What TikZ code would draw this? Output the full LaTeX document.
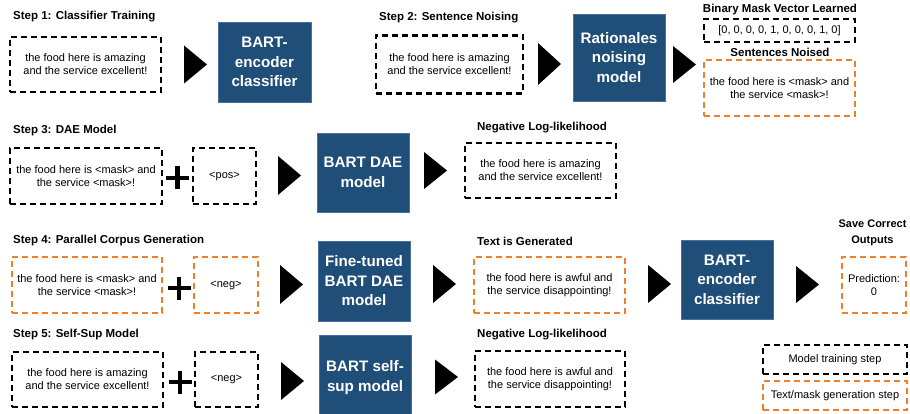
\documentclass[tikz,border=0pt]{standalone}
\usepackage{fontspec}
\setmainfont{Liberation Sans}
\definecolor{bartblue}{RGB}{31,78,121}
\definecolor{bartedge}{RGB}{72,112,160}
\definecolor{maskorange}{RGB}{238,127,45}
\tikzset{
  base/.style={inner sep=0pt, align=center, font=\fontsize{11}{13}\selectfont},
  dbox/.style={base, draw=black, line width=2.6pt, dash pattern=on 6pt off 4pt},
  obox/.style={dbox, draw=maskorange},
  bbox/.style={base, fill=bartblue, draw=bartedge, line width=0.6pt, text=white, font=\bfseries\fontsize{15.2}{19.5}\selectfont},
  ttl/.style={inner sep=0pt, align=center, font=\bfseries\fontsize{11.5}{17}\selectfont},
  plusbar/.style={line width=4.5pt},
}
\newcommand\arrowtri[3]{\fill (#1,#2-#3) -- (#1+23,#2) -- (#1,#2+#3) -- cycle;}
\newcommand\plussign[2]{\draw[plusbar] (#1-11.5,#2) -- (#1+11.5,#2) (#1,#2-11.5) -- (#1,#2+11.5);}
\begin{document}
\begin{tikzpicture}[x=1pt,y=-1pt]
\useasboundingbox (0,0) rectangle (910,414);

% ---------- Step 1 ----------
\node[ttl, anchor=west] (t1) at (13,17) {Step 1: Classifier Training};
\node[dbox, minimum width=151pt, minimum height=55pt] (s1in) at (85.5,64.5) {the food here is amazing\\and the service excellent!};
\arrowtri{184}{64.5}{19}
\node[bbox, minimum width=93pt, minimum height=80pt] (bart1) at (264.5,62) {BART-\\encoder\\classifier};

% ---------- Step 2 ----------
\node[ttl, anchor=west] (t2) at (379,17.5) {Step 2: Sentence Noising};
\node[dbox, minimum width=147pt, minimum height=58pt] (s2in) at (449.5,64.5) {the food here is amazing\\and the service excellent!};
\arrowtri{538}{64}{21}
\node[bbox, minimum width=92pt, minimum height=87pt] (rat) at (619,57.5) {Rationales\\noising\\model};
\arrowtri{673}{64.5}{18.5}
\node[ttl] (tmask) at (780,10) {Binary Mask Vector Learned};
\node[dbox, minimum width=151pt, minimum height=23pt] (mask) at (779.5,30.5) {[0, 0, 0, 0, 1, 0, 0, 0, 1, 0]};
\node[ttl] (tnoised) at (780,52) {Sentences Noised};
\node[obox, minimum width=151pt, minimum height=56pt] (noised) at (779.5,88) {the food here is <mask> and\\the service <mask>!};

% ---------- Step 3 ----------
\node[ttl, anchor=west] (t3) at (13,131) {Step 3: DAE Model};
\node[dbox, minimum width=152pt, minimum height=56pt] (s3in) at (86,176) {the food here is <mask> and\\the service <mask>!};
\plussign{177.5}{178}
\node[dbox, minimum width=63pt, minimum height=56pt] (pos) at (224.5,176) {<pos>};
\arrowtri{278}{175.5}{19.5}
\node[bbox, minimum width=92pt, minimum height=79pt] (dae) at (363,172.5) {BART DAE\\model};
\arrowtri{424}{170.5}{18.5}
\node[ttl] (tnll1) at (542,128) {Negative Log-likelihood};
\node[dbox, minimum width=151pt, minimum height=55pt] (nll1) at (540.5,170.5) {the food here is amazing\\and the service excellent!};

% ---------- Step 4 ----------
\node[ttl, anchor=west] (t4) at (13,241) {Step 4: Parallel Corpus Generation};
\node[obox, minimum width=150pt, minimum height=56pt] (s4in) at (87,285) {the food here is <mask> and\\the service <mask>!};
\plussign{179}{288}
\node[obox, minimum width=64pt, minimum height=56pt] (neg1) at (226,285) {<neg>};
\arrowtri{280}{284.5}{19.5}
\node[bbox, minimum width=92pt, minimum height=80pt] (ft) at (364,281) {Fine-tuned\\BART DAE\\model};
\arrowtri{433}{284}{19}
\node[ttl, anchor=west] (tgen) at (477,241) {Text is Generated};
\node[obox, minimum width=151pt, minimum height=56pt] (gen) at (549.5,285) {the food here is awful and\\the service disappointing!};
\arrowtri{648}{284}{19}
\node[bbox, minimum width=92pt, minimum height=79pt] (bart2) at (727,279.5) {BART-\\encoder\\classifier};
\arrowtri{796}{284.5}{18.5}
\node[ttl, font=\bfseries\fontsize{11}{16.5}\selectfont] (tsave) at (872.5,233) {Save Correct\\Outputs};
\node[obox, minimum width=64pt, minimum height=56pt] (pred) at (874,285) {Prediction:\\0};

% ---------- Step 5 ----------
\node[ttl, anchor=west] (t5) at (13,335) {Step 5: Self-Sup Model};
\node[dbox, minimum width=151pt, minimum height=55pt] (s5in) at (87.5,379.5) {the food here is amazing\\and the service excellent!};
\plussign{180}{382}
\node[dbox, minimum width=63pt, minimum height=55pt] (neg2) at (226.5,379.5) {<neg>};
\arrowtri{281}{381}{19}
\node[bbox, minimum width=92pt, minimum height=85pt] (ss) at (365,377.5) {BART self-\\sup model};
\arrowtri{435}{377}{17.5}
\node[ttl, anchor=west] (tnll2) at (477,335) {Negative Log-likelihood};
\node[dbox, minimum width=150pt, minimum height=56pt] (nll2) at (550,379) {the food here is awful and\\the service disappointing!};

% ---------- Legend ----------
\node[dbox, minimum width=144pt, minimum height=29pt] (legtrain) at (835,359.5) {Model training step};
\node[obox, minimum width=144pt, minimum height=29pt] (leggen) at (835,395.5) {Text/mask generation step};
\end{tikzpicture}
\end{document}
